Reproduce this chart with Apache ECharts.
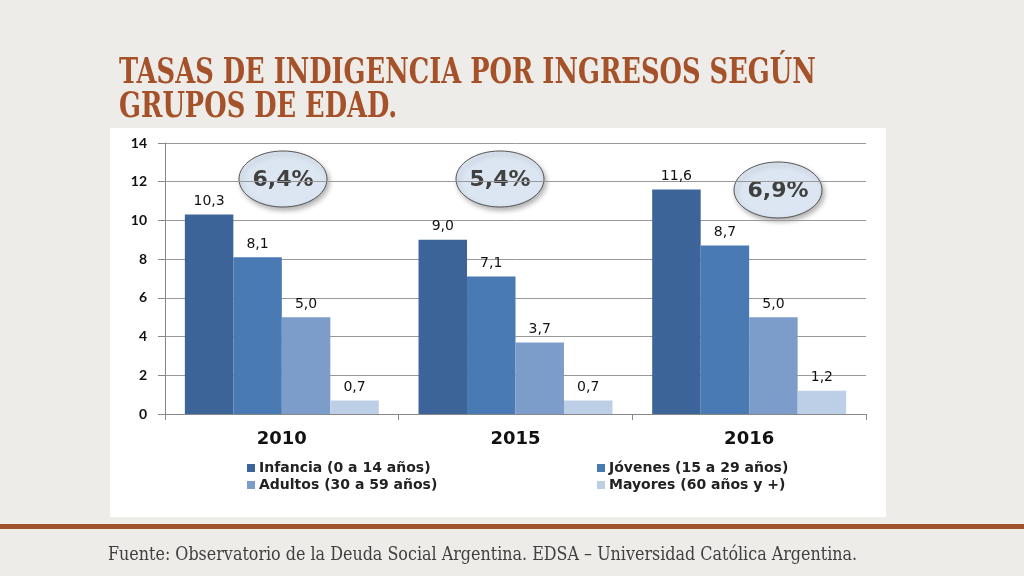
<!DOCTYPE html>
<html>
<head>
<meta charset="utf-8">
<title>Tasas de indigencia por ingresos según grupos de edad</title>
<script src="https://cdn.jsdelivr.net/npm/echarts/dist/echarts.min.js"></script>
<style>
  html, body { margin: 0; padding: 0; background: #eeece9; }
  #chart { width: 1024px; height: 576px; }
</style>
</head>
<body>
<div id="chart"></div>
<script>
// datos
var years = ['2010', '2015', '2016'];
var seriesNames = ['Infancia (0 a 14 años)', 'Jóvenes (15 a 29 años)', 'Adultos (30 a 59 años)', 'Mayores (60 años y +)'];
var infancia = [10.3, 9.0, 11.6];
var jovenes = [8.1, 7.1, 8.7];
var adultos = [5.0, 3.7, 5.0];
var mayores = [0.7, 0.7, 1.2];
var totales = [6.4, 5.4, 6.9];   // tasa total de cada año (globos)
var yTicks = [0, 2, 4, 6, 8, 10, 12, 14];

var colores = ['#3d6499', '#4a7ab4', '#7c9cc9', '#bccfe6'];
var valores = [infancia, jovenes, adultos, mayores];

function coma(v) {
    return v.toFixed(1).replace('.', ',');
}

var sansFont = '"DejaVu Sans", Verdana, sans-serif';
var latoFont = 'Lato, "DejaVu Sans", sans-serif';
var serifFont = '"DejaVu Serif Condensed", "DejaVu Serif", serif';

// globos con el total de cada año
var globoPos = [[283, 179], [500, 179], [778, 190]];
var globos = totales.map(function (t, i) {
    return {
        type: 'group',
        x: globoPos[i][0],
        y: globoPos[i][1],
        z: 100,
        children: [{
            type: 'ellipse',
            shape: { cx: 0, cy: 0, rx: 44, ry: 28 },
            style: {
                fill: '#dce6f2',
                stroke: '#555',
                lineWidth: 1,
                shadowBlur: 5,
                shadowOffsetX: 2,
                shadowOffsetY: 3,
                shadowColor: 'rgba(0,0,0,0.3)'
            }
        }, {
            type: 'text',
            style: {
                text: coma(t) + '%',
                x: 0,
                y: 1,
                textAlign: 'center',
                textVerticalAlign: 'middle',
                font: 'bold 22px ' + sansFont,
                fill: '#404040'
            }
        }]
    };
});

var legendText = { fontFamily: sansFont, fontWeight: 'bold', fontSize: 14, color: '#222', padding: [0, 0, 0, -1] };

var option = {
    backgroundColor: '#eeece9',
    animation: false,
    graphic: [{
        type: 'rect',
        z: -10,
        shape: { x: 110, y: 128, width: 776, height: 389 },
        style: { fill: '#ffffff' }
    }, {
        type: 'rect',
        shape: { x: 0, y: 524, width: 1024, height: 5 },
        style: { fill: '#a0522d' }
    }, {
        type: 'text',
        x: 119,
        y: 57,
        scaleX: 0.795,
        style: {
            text: 'TASAS DE INDIGENCIA POR INGRESOS SEGÚN\nGRUPOS DE EDAD.',
            x: 0,
            y: 0,
            textVerticalAlign: 'top',
            font: 'bold 36px ' + serifFont,
            fill: '#a5522b',
            lineHeight: 34
        }
    }, {
        type: 'text',
        x: 108,
        y: 555,
        scaleX: 0.985,
        style: {
            text: 'Fuente: Observatorio de la Deuda Social Argentina. EDSA – Universidad Católica Argentina.',
            x: 0,
            y: 0,
            textVerticalAlign: 'middle',
            font: '18px ' + serifFont,
            fill: '#404040'
        }
    }].concat(globos),
    legend: [{
        data: [seriesNames[0], seriesNames[2]],
        orient: 'vertical',
        left: 242,
        top: 456,
        itemWidth: 8,
        itemHeight: 8,
        itemGap: 3,
        icon: 'rect',
        textStyle: legendText
    }, {
        data: [seriesNames[1], seriesNames[3]],
        orient: 'vertical',
        left: 592,
        top: 456,
        itemWidth: 8,
        itemHeight: 8,
        itemGap: 3,
        icon: 'rect',
        textStyle: legendText
    }],
    grid: {
        left: 165,
        right: 158,
        top: 143,
        bottom: 162
    },
    xAxis: {
        type: 'category',
        data: years,
        axisLine: { lineStyle: { color: '#888', width: 1 } },
        axisTick: { show: true, length: 6, lineStyle: { color: '#888' } },
        axisLabel: {
            margin: 16,
            color: '#111',
            fontFamily: sansFont,
            fontWeight: 'bold',
            fontSize: 18
        }
    },
    yAxis: {
        type: 'value',
        min: 0,
        max: 14,
        interval: 2,
        axisLine: { show: true, lineStyle: { color: '#888' } },
        axisTick: { show: true, length: 7, lineStyle: { color: '#888' } },
        axisLabel: {
            margin: 18,
            color: '#111',
            fontFamily: latoFont,
            fontWeight: 'bold',
            fontSize: 14,
            formatter: function (v) { return yTicks.indexOf(v) >= 0 ? String(v) : ''; }
        },
        splitLine: { lineStyle: { color: '#999', width: 1 } }
    },
    series: seriesNames.map(function (name, i) {
        return {
            name: name,
            type: 'bar',
            data: valores[i],
            barGap: '0%',
            barCategoryGap: '17%',
            itemStyle: { color: colores[i] },
            label: {
                show: true,
                position: 'top',
                distance: 6,
                color: '#111',
                fontFamily: sansFont,
                fontSize: 14,
                formatter: function (p) { return coma(p.value); }
            }
        };
    })
};

var chart = echarts.init(document.getElementById('chart'));
chart.setOption(option);
</script>
</body>
</html>
